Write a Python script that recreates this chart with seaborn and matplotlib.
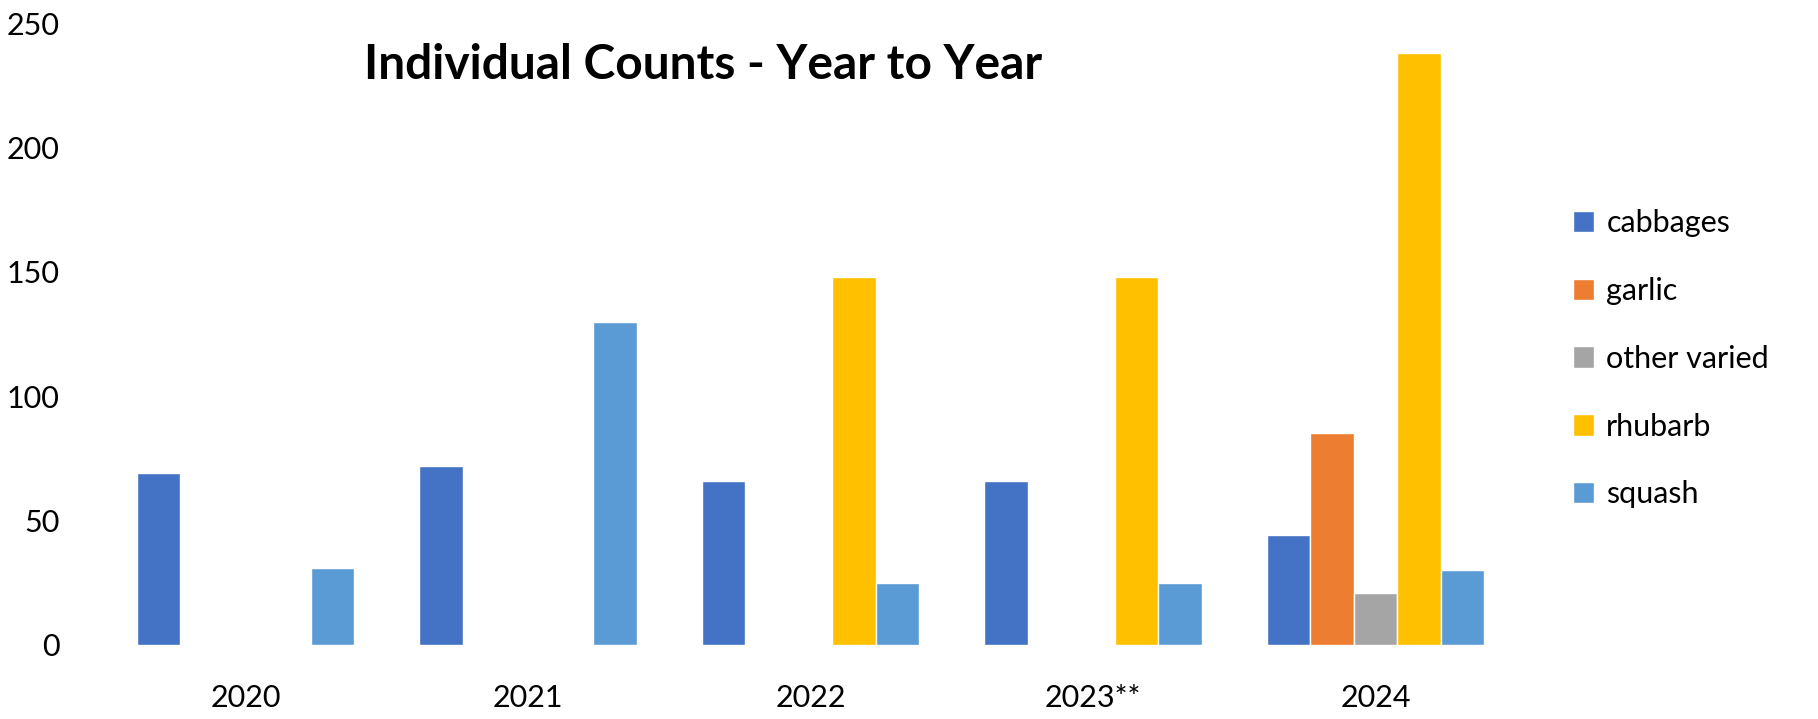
import matplotlib
matplotlib.use("Agg")
import matplotlib.pyplot as plt
import numpy as np, pandas as pd
import seaborn as sns

years = ["2020", "2021", "2022", "2023**", "2024"]
crops = ["cabbages", "garlic", "other varied", "rhubarb", "squash"]
cabbages = [69, 72, 66, 66, 44]
garlic = [0, 0, 0, 0, 85]
other_varied = [0, 0, 0, 0, 21]
rhubarb = [0, 0, 148, 148, 238]
squash = [31, 130, 25, 25, 30]
colors = ["#4472C4", "#ED7D31", "#A5A5A5", "#FFC000", "#5B9BD5"]

df = pd.DataFrame({"year": years, "cabbages": cabbages, "garlic": garlic,
                   "other varied": other_varied, "rhubarb": rhubarb, "squash": squash})
long = df.melt(id_vars="year", var_name="crop", value_name="count")

sns.set_style("white")
plt.rcParams["font.family"] = ["Lato", "DejaVu Sans"]
plt.rcParams["text.color"] = "black"
plt.rcParams["xtick.color"] = "black"
plt.rcParams["ytick.color"] = "black"

fig = plt.figure(figsize=(18.18, 7.19), dpi=100)
ax = fig.add_axes([0.0574, 0.103, 0.777, 0.865])
sns.barplot(data=long, x="year", y="count", hue="crop", hue_order=crops, order=years,
            palette=colors, width=0.77, gap=0, saturation=1, ax=ax)

ax.set_ylim(0, 250)
ax.set_yticks([0, 50, 100, 150, 200, 250])
ax.set_xlabel("")
ax.set_ylabel("")
for s in ax.spines.values():
    s.set_visible(False)
ax.tick_params(axis="both", length=0, labelsize=22, labelcolor="black")
ax.tick_params(axis="y", pad=32)
ax.tick_params(axis="x", pad=28)

ax.text(0.2, 0.91, "Individual Counts - Year to Year", transform=fig.transFigure,
        fontsize=34.5, fontweight="bold", va="center", ha="left", color="black")

leg = ax.legend(loc="center left", bbox_to_anchor=(1.02, 0.46), frameon=False,
                fontsize=22, handlelength=0.7, handleheight=0.7, handletextpad=0.4,
                labelspacing=1.3)
for t in leg.get_texts():
    t.set_color("black")

fig.savefig("out.png", dpi=100)
